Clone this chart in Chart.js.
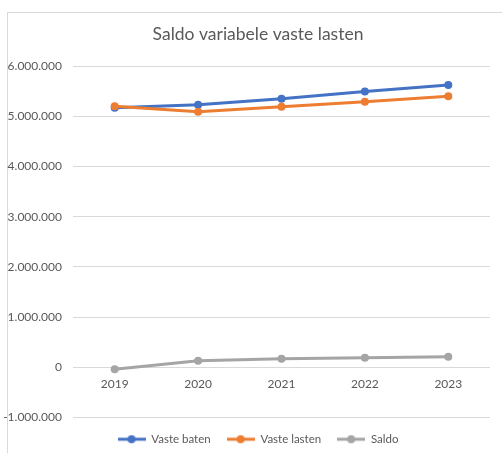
<!DOCTYPE html>
<html lang="nl">
<head>
  <meta charset="UTF-8" />
  <title>Saldo variabele vaste lasten</title>
  <script src="https://cdn.jsdelivr.net/npm/chart.js"></script>
  <style>
    html, body { margin: 0; padding: 0; background: #fff; overflow: hidden; }
    .wrap { position: relative; width: 502px; height: 453px; }
    .frame { position: absolute; left: 7px; top: 12px; width: 520px; height: 460px; border: 1px solid #d9d9d9; box-sizing: border-box; }
    canvas { position: absolute; left: 0; top: 0; }
  </style>
</head>
<body>
  <div class="wrap">
    <div class="frame"></div>
    <canvas id="saldoChart" width="502" height="453"></canvas>
  </div>

  <script>
    // data
    const jaren = ['2019', '2020', '2021', '2022', '2023'];
    const vasteBaten = [5170000, 5230000, 5350000, 5490000, 5620000];
    const vasteLasten = [5200000, 5090000, 5190000, 5290000, 5400000];
    const saldo = [-40000, 130000, 170000, 190000, 210000];
    const yTicks = [-1000000, 0, 1000000, 2000000, 3000000, 4000000, 5000000, 6000000];

    const textColor = '#595959';
    const fontFam = 'Lato, "Open Sans", sans-serif';

    function fmt(v) {
      const s = Math.abs(v).toString().replace(/\B(?=(\d{3})+(?!\d))/g, '.');
      return (v < 0 ? '-' : '') + s;
    }

    // legend marker: short line with a dot in the middle
    function marker(color) {
      const c = document.createElement('canvas');
      c.width = 28; c.height = 10;
      const g = c.getContext('2d');
      g.strokeStyle = color; g.lineWidth = 3;
      g.beginPath(); g.moveTo(0, 5); g.lineTo(28, 5); g.stroke();
      g.fillStyle = color;
      g.beginPath(); g.arc(14, 5, 4, 0, Math.PI * 2); g.fill();
      return c;
    }

    const series = [
      { label: 'Vaste baten', data: vasteBaten, color: '#4472C4' },
      { label: 'Vaste lasten', data: vasteLasten, color: '#ED7D31' },
      { label: 'Saldo', data: saldo, color: '#A5A5A5' }
    ];

    new Chart(document.getElementById('saldoChart'), {
      type: 'line',
      data: {
        labels: jaren,
        datasets: series.map((s, i) => ({
          label: s.label,
          data: s.data,
          borderColor: s.color,
          backgroundColor: s.color,
          borderWidth: 3,
          pointRadius: 4,
          pointBorderWidth: 0,
          tension: 0,
          order: series.length - i // later series on top, like Excel
        }))
      },
      options: {
        responsive: false,
        animation: false,
        layout: { padding: { left: 26, right: 12, top: 0, bottom: -2 } },
        plugins: {
          title: {
            display: true,
            text: 'Saldo variabele vaste lasten',
            color: textColor,
            font: { family: fontFam, size: 17.5, weight: 'normal' },
            padding: { top: 24, bottom: 21 }
          },
          legend: {
            position: 'bottom',
            labels: {
              usePointStyle: true,
              pointStyleWidth: 28,
              padding: 16,
              color: textColor,
              font: { family: fontFam, size: 11.5 },
              generateLabels(chart) {
                return chart.data.datasets.map((ds, i) => ({
                  text: ds.label,
                  fontColor: textColor,
                  pointStyle: marker(series[i].color),
                  datasetIndex: i,
                  lineWidth: 0,
                  hidden: false
                }));
              }
            }
          },
          tooltip: { enabled: false }
        },
        scales: {
          x: {
            offset: true,
            position: { y: 0 },
            grid: { display: false, drawTicks: false },
            border: { display: false },
            ticks: { color: textColor, font: { family: fontFam, size: 12 }, padding: 10 }
          },
          y: {
            min: -1000000,
            max: 6000000,
            afterBuildTicks(scale) { scale.ticks = yTicks.map(v => ({ value: v })); },
            afterFit(scale) {
              scale.width = 47;
              // labels stick out left of the narrow scale box, so do not clip them
              scale._computeLabelArea = () => undefined;
            },
            grid: { color: '#d9d9d9', drawTicks: false },
            border: { display: false },
            ticks: {
              color: textColor,
              font: { family: fontFam, size: 12 },
              padding: 11,
              callback: v => fmt(v)
            }
          }
        }
      }
    });
  </script>
</body>
</html>
